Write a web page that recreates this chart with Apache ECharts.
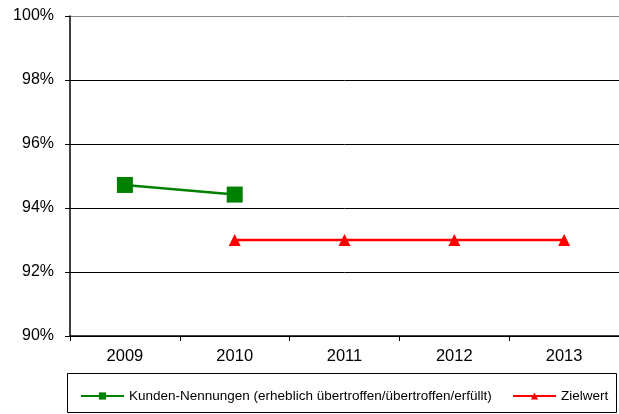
<!DOCTYPE html>
<html>
<head>
<meta charset="utf-8">
<script src="https://cdn.jsdelivr.net/npm/echarts@6/dist/echarts.min.js"></script>
<style>html,body{margin:0;padding:0;background:#fff;}#c{width:619px;height:414px;}</style>
</head>
<body>
<div id="c"></div>
<script>
const years = ['2009', '2010', '2011', '2012', '2013'];
const kunden = [94.72, 94.42, null, null, null];
const ziel = [null, 93.0, 93.0, 93.0, 93.0];
const yTicks = [90, 92, 94, 96, 98, 100];
const seriesNames = ['Kunden-Nennungen (erheblich übertroffen/übertroffen/erfüllt)', 'Zielwert'];

const chart = echarts.init(document.getElementById('c'), null, {renderer: 'canvas'});
const font = 'Liberation Sans, Arial, sans-serif';
const legendBase = {
  top: 384,
  itemWidth: 43,
  itemHeight: 9,
  itemGap: 12,
  textStyle: {color: '#000', fontSize: 13.5, fontFamily: font}
};
chart.setOption({
  animation: false,
  backgroundColor: '#fff',
  grid: {left: 70, top: 16, width: 550, height: 320, containLabel: false},
  xAxis: {
    type: 'category',
    data: years,
    boundaryGap: true,
    axisLine: {lineStyle: {color: '#000', width: 1.5}},
    axisTick: {show: true, length: 5, lineStyle: {color: '#000', width: 1}},
    axisLabel: {color: '#000', fontSize: 16.5, fontFamily: font, margin: 12},
    splitLine: {show: false}
  },
  yAxis: {
    type: 'value',
    min: yTicks[0],
    max: yTicks[yTicks.length - 1],
    interval: 2,
    axisLine: {show: true, lineStyle: {color: '#000', width: 1.5}},
    axisTick: {show: true, length: 5, lineStyle: {color: '#000'}},
    axisLabel: {color: '#000', fontSize: 16, fontFamily: font, margin: 16, formatter: v => v + '%'},
    splitLine: {show: true, lineStyle: {color: ['#000', '#000', '#000', '#000', '#000', '#888'], width: 1}}
  },
  legend: [
    Object.assign({left: 75, data: [seriesNames[0]]}, legendBase),
    Object.assign({left: 507, data: [seriesNames[1]]}, legendBase)
  ],
  graphic: [{
    type: 'rect',
    shape: {x: 67.5, y: 373.5, width: 549, height: 39},
    style: {fill: 'none', stroke: '#000', lineWidth: 1}
  }],
  series: [
    {
      name: seriesNames[0],
      type: 'line',
      data: kunden,
      symbol: 'rect',
      symbolSize: 16,
      connectNulls: false,
      lineStyle: {color: '#008000', width: 2.5},
      itemStyle: {color: '#008000'}
    },
    {
      name: seriesNames[1],
      type: 'line',
      data: ziel,
      symbol: 'triangle',
      symbolSize: 12,
      lineStyle: {color: '#ff0000', width: 2.5},
      itemStyle: {color: '#ff0000'}
    }
  ]
});
</script>
</body>
</html>
